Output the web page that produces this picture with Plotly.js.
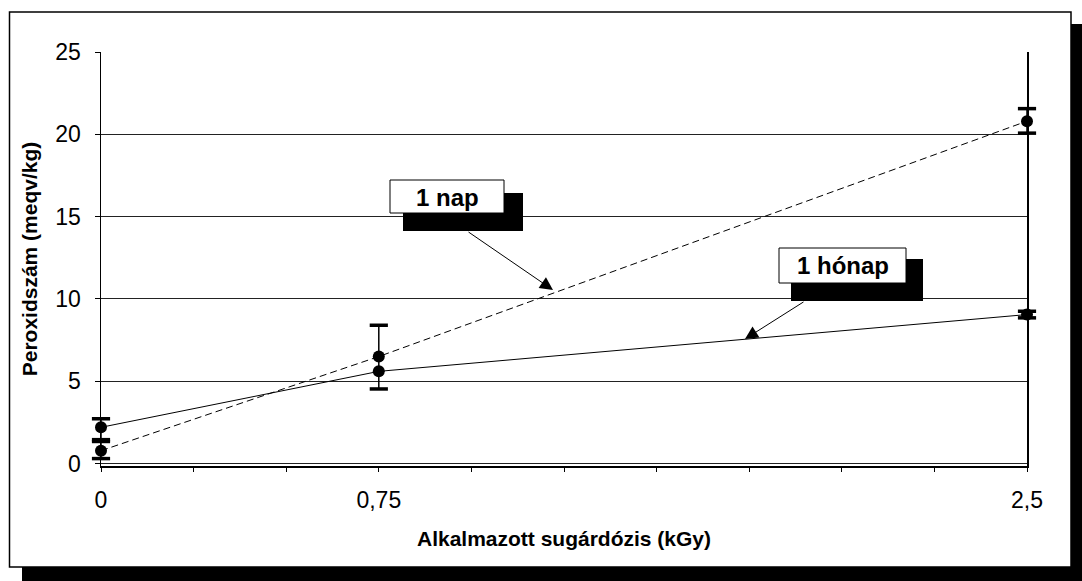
<!DOCTYPE html>
<html>
<head>
<meta charset="utf-8">
<script src="https://cdn.plot.ly/plotly-3.0.1.min.js"></script>
<style>html,body{margin:0;padding:0;background:#fff;}#chart{width:1082px;height:581px;}</style>
</head>
<body>
<div id="chart"></div>
<script>
// ---- data ----
const doses = [0, 0.75, 2.5];
const napValues = [0.78, 6.5, 20.8];
const napErrPlus = [0.56, 1.9, 0.76];
const napErrMinus = [0.48, 1.97, 0.73];
const honapValues = [2.2, 5.6, 9.05];
const honapErrPlus = [0.52, 0.0, 0.2];
const honapErrMinus = [0.75, 0.0, 0.2];
const xTickVals = [0, 0.25, 0.5, 0.75, 1, 1.25, 1.5, 1.75, 2, 2.25, 2.5];
const xTickText = ['0', '', '', '0,75', '', '', '', '', '', '', '2,5'];
const yTickVals = [0, 5, 10, 15, 20, 25];
const seriesNames = ['1 nap', '1 hónap'];
const xTitle = 'Alkalmazott sugárdózis (kGy)';
const yTitle = 'Peroxidszám (meqv/kg)';

// ---- layout helpers ----
const M = {l: 101, r: 55, t: 52, b: 115};
const W = 1082, H = 581;
const PW = W - M.l - M.r, PH = H - M.t - M.b;
const P = px => (px - M.l) / PW;
const Q = py => (H - M.b - py) / PH;
const FONT = 'Arial, "Liberation Sans", sans-serif';

function capsTrace(vals, plus, minus) {
  const xs = [], ys = [];
  doses.forEach((d, i) => {
    if (plus[i] > 0) { xs.push(d); ys.push(vals[i] + plus[i]); }
    if (minus[i] > 0) { xs.push(d); ys.push(vals[i] - minus[i]); }
  });
  return {x: xs, y: ys, type: 'scatter', mode: 'markers', showlegend: false, hoverinfo: 'skip', cliponaxis: false,
    marker: {symbol: 'line-ew', size: 13, color: '#000', line: {color: '#000', width: 3.5}}};
}

const traces = [
  {x: doses, y: napValues, name: seriesNames[0], type: 'scatter', mode: 'lines+markers', cliponaxis: false,
   line: {color: '#000', width: 1, dash: '7px,4px'},
   marker: {symbol: 'circle', size: 12, color: '#000'},
   error_y: {type: 'data', array: napErrPlus, arrayminus: napErrMinus, symmetric: false, color: '#000', thickness: 1.5, width: 0}},
  {x: doses, y: honapValues, name: seriesNames[1], type: 'scatter', mode: 'lines+markers', cliponaxis: false,
   line: {color: '#000', width: 1},
   marker: {symbol: 'circle', size: 12, color: '#000'},
   error_y: {type: 'data', array: honapErrPlus, arrayminus: honapErrMinus, symmetric: false, color: '#000', thickness: 1.5, width: 0}},
  capsTrace(napValues, napErrPlus, napErrMinus),
  capsTrace(honapValues, honapErrPlus, honapErrMinus)
];

const rect = (x0, y0, x1, y1, fill, lineW, layer) => ({
  type: 'rect', xref: 'paper', yref: 'paper', x0: P(x0), x1: P(x1), y0: Q(y1), y1: Q(y0),
  fillcolor: fill, line: {color: '#000', width: lineW}, layer: layer
});

const layout = {
  width: W, height: H,
  margin: M,
  paper_bgcolor: '#fff', plot_bgcolor: 'rgba(0,0,0,0)',
  showlegend: false,
  font: {family: FONT, color: '#000'},
  xaxis: {
    range: [0, 2.5], tickmode: 'array', tickvals: xTickVals, ticktext: xTickText,
    ticks: 'outside', ticklen: 4, tickwidth: 1, tickcolor: '#000',
    showgrid: false, zeroline: false, showline: true, linecolor: '#000', linewidth: 1.5,
    tickfont: {size: 23, family: FONT}, ticklabelstandoff: 9,
    title: {text: xTitle, font: {size: 21, family: FONT, weight: 'bold'}, standoff: 19}
  },
  xaxis2: {
    range: [0, 2.5], overlaying: 'x', anchor: 'y', side: 'bottom', tickmode: 'array', tickvals: xTickVals,
    ticks: 'inside', ticklen: 4, tickwidth: 1, tickcolor: '#000', showticklabels: false,
    showgrid: false, zeroline: false, showline: false
  },
  yaxis: {
    range: [-0.15, 25], tickmode: 'array', tickvals: yTickVals,
    ticks: 'outside', ticklen: 5, tickwidth: 1, tickcolor: '#000',
    showgrid: true, gridcolor: '#222', gridwidth: 1, zeroline: false,
    showline: true, linecolor: '#000', linewidth: 1.5, mirror: true,
    tickfont: {size: 23, family: FONT}, ticklabelstandoff: 9,
    title: {text: yTitle, font: {size: 21, family: FONT, weight: 'bold'}, standoff: 12}
  },
  shapes: [
    rect(22, 24, 1095, 600, '#000', 0, 'below'),
    rect(9.5, 12, 1071, 567, '#fff', 1.5, 'below'),
    rect(403, 193, 523, 231, '#000', 0, 'above'),
    rect(390, 180, 504, 213, '#fff', 1, 'above'),
    rect(791, 259, 923, 301, '#000', 0, 'above'),
    rect(779, 248, 906, 283, '#fff', 1, 'above')
  ],
  annotations: [
    {xref: 'paper', yref: 'paper', x: P(447), y: Q(197), xanchor: 'center', yanchor: 'middle',
     text: '<b>' + seriesNames[0] + '</b>', showarrow: false,
     font: {size: 24, family: FONT, color: '#000'}},
    {xref: 'paper', yref: 'paper', x: P(842.5), y: Q(265.5), xanchor: 'center', yanchor: 'middle',
     text: '<b>' + seriesNames[1] + '</b>', showarrow: false,
     font: {size: 24, family: FONT, color: '#000'}},
    {xref: 'paper', yref: 'paper', x: P(553), y: Q(290), text: '', showarrow: true,
     ax: 467 - 553, ay: 231 - 290, arrowhead: 2, arrowsize: 2.6, arrowwidth: 1, arrowcolor: '#000'},
    {xref: 'paper', yref: 'paper', x: P(745), y: Q(339), text: '', showarrow: true,
     ax: 805 - 745, ay: 301 - 339, arrowhead: 2, arrowsize: 2.6, arrowwidth: 1, arrowcolor: '#000'}
  ]
};

Plotly.newPlot('chart', traces, layout, {staticPlot: true, displayModeBar: false});
</script>
</body>
</html>
